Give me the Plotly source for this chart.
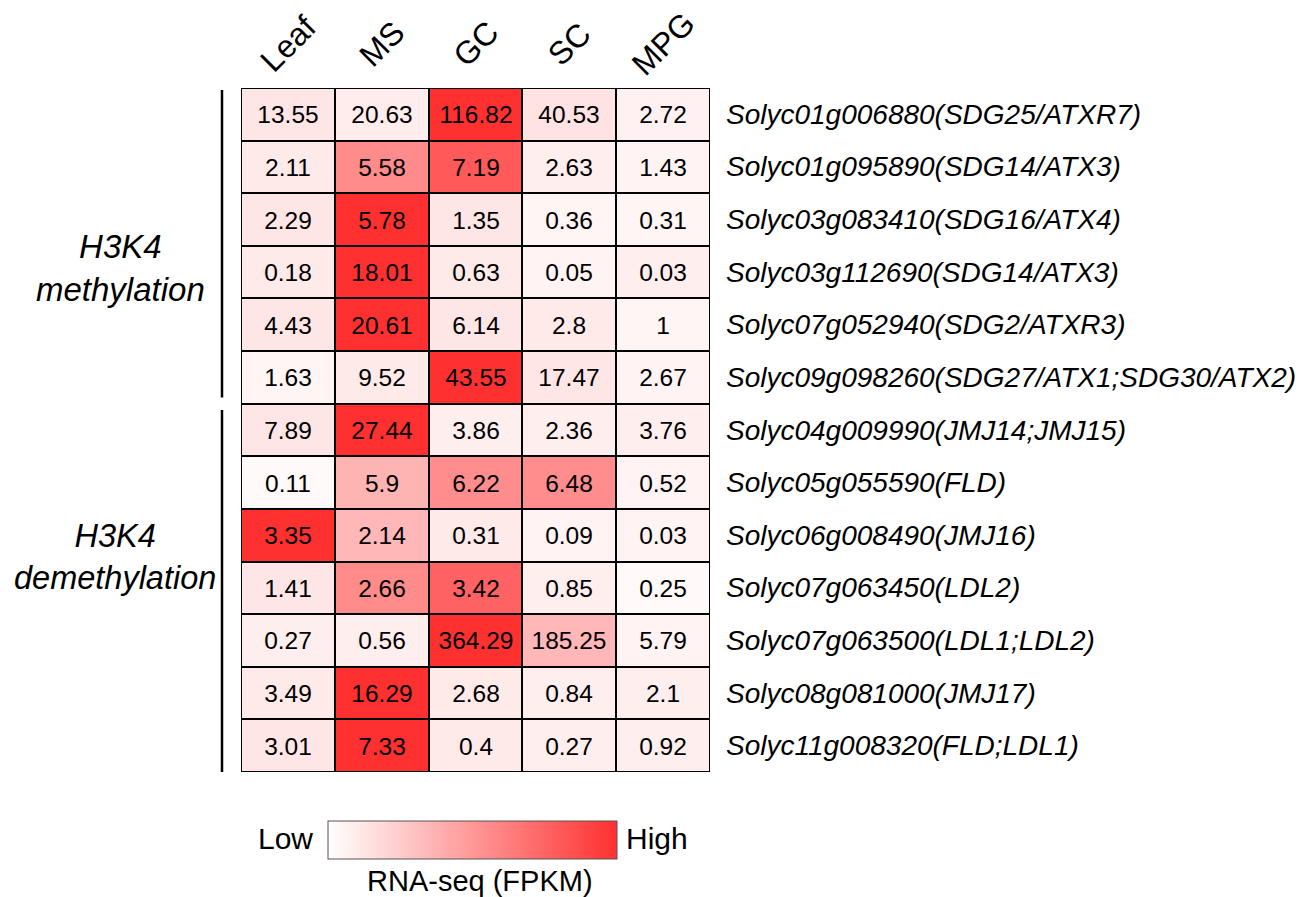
import plotly.graph_objects as go

tissues = ["Leaf", "MS", "GC", "SC", "MPG"]
genes = [
    "Solyc01g006880(SDG25/ATXR7)",
    "Solyc01g095890(SDG14/ATX3)",
    "Solyc03g083410(SDG16/ATX4)",
    "Solyc03g112690(SDG14/ATX3)",
    "Solyc07g052940(SDG2/ATXR3)",
    "Solyc09g098260(SDG27/ATX1;SDG30/ATX2)",
    "Solyc04g009990(JMJ14;JMJ15)",
    "Solyc05g055590(FLD)",
    "Solyc06g008490(JMJ16)",
    "Solyc07g063450(LDL2)",
    "Solyc07g063500(LDL1;LDL2)",
    "Solyc08g081000(JMJ17)",
    "Solyc11g008320(FLD;LDL1)",
]
fpkm = [
    ["13.55", "20.63", "116.82", "40.53", "2.72"],
    ["2.11", "5.58", "7.19", "2.63", "1.43"],
    ["2.29", "5.78", "1.35", "0.36", "0.31"],
    ["0.18", "18.01", "0.63", "0.05", "0.03"],
    ["4.43", "20.61", "6.14", "2.8", "1"],
    ["1.63", "9.52", "43.55", "17.47", "2.67"],
    ["7.89", "27.44", "3.86", "2.36", "3.76"],
    ["0.11", "5.9", "6.22", "6.48", "0.52"],
    ["3.35", "2.14", "0.31", "0.09", "0.03"],
    ["1.41", "2.66", "3.42", "0.85", "0.25"],
    ["0.27", "0.56", "364.29", "185.25", "5.79"],
    ["3.49", "16.29", "2.68", "0.84", "2.1"],
    ["3.01", "7.33", "0.4", "0.27", "0.92"],
]
# colour intensity of each cell (0 = white, 1 = full red)
shade = [
    [0.12, 0.09, 1.00, 0.14, 0.07],
    [0.10, 0.56, 0.80, 0.08, 0.06],
    [0.12, 1.00, 0.12, 0.05, 0.05],
    [0.10, 1.00, 0.10, 0.06, 0.08],
    [0.12, 1.00, 0.12, 0.10, 0.05],
    [0.05, 0.10, 1.00, 0.12, 0.06],
    [0.12, 1.00, 0.08, 0.08, 0.08],
    [0.03, 0.36, 0.55, 0.55, 0.06],
    [1.00, 0.35, 0.10, 0.06, 0.06],
    [0.12, 0.56, 0.76, 0.08, 0.03],
    [0.08, 0.08, 1.00, 0.35, 0.06],
    [0.10, 1.00, 0.10, 0.08, 0.08],
    [0.12, 1.00, 0.10, 0.08, 0.08],
]
groups = ["<i>H3K4</i><br><i>methylation</i>", "<i>H3K4</i><br><i>demethylation</i>"]

FONT = "Liberation Sans, Arial, sans-serif"
RED = "rgb(255,48,48)"
PW, PH = 469, 684  # plot area size in px

fig = go.Figure()
fig.add_trace(go.Heatmap(
    z=shade,
    x=list(range(len(tissues))),
    y=list(range(len(genes))),
    text=fpkm,
    texttemplate="%{text}",
    textfont=dict(family=FONT, size=24.5, color="black"),
    colorscale=[[0, "rgb(255,255,255)"], [1, RED]],
    zmin=0, zmax=1,
    xgap=2, ygap=2,
    hoverinfo="skip",
    colorbar=dict(
        orientation="h",
        x=(472.5 - 241) / PW, xanchor="center",
        y=(772 - 821) / PH, yanchor="top",
        lenmode="pixels", len=289,
        thickness=38,
        xpad=0, ypad=0,
        outlinecolor="#555555", outlinewidth=1,
        showticklabels=False, ticks="",
    ),
))

fig.update_xaxes(range=[-0.5, 4.5], showticklabels=False, showgrid=False,
                 zeroline=False, ticks="")
fig.update_yaxes(range=[12.5, -0.5], showticklabels=False, showgrid=False,
                 zeroline=False, ticks="")

# row labels
for j, g in enumerate(genes):
    fig.add_annotation(x=1 + 14 / PW, xref="paper", y=j, yref="y", text=f"<i>{g}</i>",
                       showarrow=False, xanchor="left", yanchor="middle",
                       font=dict(family=FONT, size=28, color="black"))

# column labels, rotated
for i, t in enumerate(tissues):
    fig.add_annotation(x=i, xref="x", y=(772 - 44) / PH, yref="paper", text=t,
                       textangle=-45, showarrow=False,
                       xanchor="center", yanchor="middle",
                       font=dict(family=FONT, size=32, color="black"))

# outer border
fig.add_shape(type="rect", xref="x", yref="y", x0=-0.5, x1=4.5, y0=-0.5, y1=12.5,
              line=dict(color="black", width=1.5))

# group brackets
fig.add_shape(type="line", xref="paper", yref="y", x0=-19 / PW, x1=-19 / PW,
              y0=-0.46, y1=5.38, line=dict(color="black", width=2.5))
fig.add_shape(type="line", xref="paper", yref="y", x0=-19 / PW, x1=-19 / PW,
              y0=5.62, y1=12.5, line=dict(color="black", width=2.5))
fig.add_annotation(x=(120 - 241) / PW, xref="paper", y=(772 - 268) / PH, yref="paper",
                   text=groups[0], showarrow=False, xanchor="center", yanchor="middle",
                   align="center", font=dict(family=FONT, size=33, color="black"))
fig.add_annotation(x=(115 - 241) / PW, xref="paper", y=(772 - 557) / PH, yref="paper",
                   text=groups[1], showarrow=False, xanchor="center", yanchor="middle",
                   align="center", font=dict(family=FONT, size=32.5, color="black"))

# colorbar labels
fig.add_annotation(x=(285 - 241) / PW, xref="paper", y=(772 - 838) / PH, yref="paper",
                   text="Low", showarrow=False, xanchor="center", yanchor="middle",
                   font=dict(family=FONT, size=30, color="black"))
fig.add_annotation(x=(657 - 241) / PW, xref="paper", y=(772 - 838) / PH, yref="paper",
                   text="High", showarrow=False, xanchor="center", yanchor="middle",
                   font=dict(family=FONT, size=30, color="black"))
fig.add_annotation(x=(480 - 241) / PW, xref="paper", y=(772 - 881) / PH, yref="paper",
                   text="RNA-seq (FPKM)", showarrow=False, xanchor="center", yanchor="middle",
                   font=dict(family=FONT, size=29, color="black"))

# the page body adds an 8 px margin, so the figure is 8 px smaller and shifted
fig.update_layout(
    width=1303, height=889,
    margin=dict(l=233, r=601, t=80, b=125, autoexpand=False),
    paper_bgcolor="white", plot_bgcolor="black",
    showlegend=False,
)
fig.write_html("out.html")
